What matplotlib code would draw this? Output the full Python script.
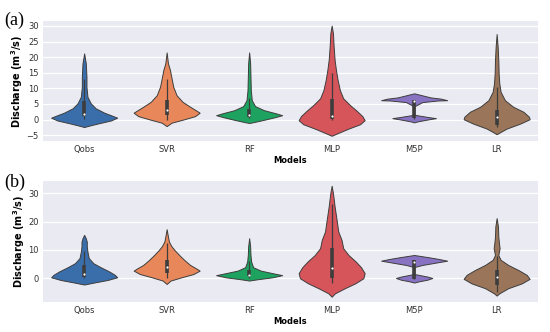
import numpy as np
import matplotlib
matplotlib.use("Agg")
import matplotlib.pyplot as plt

models = ["Qobs", "SVR", "RF", "MLP", "M5P", "LR"]
colors = ["#3a6eab", "#e8875a", "#1da35f", "#d5555a", "#8872c2", "#9a7559"]

# violin outlines: discharge level and relative half width (1 = widest)
# panel (a)
a_qobs_y = [-2.4, -2.1, -1.3, -0.3, 0.6, 1.2, 2.2, 3.6, 5.2, 7.3, 10.5, 13.7, 18.0, 21.2]
a_qobs_w = [0, 0.10, 0.40, 0.81, 1.0, 0.86, 0.61, 0.35, 0.20, 0.10, 0.07, 0.07, 0.05, 0]
a_svr_y = [-2.1, -1.0, 0.0, 1.1, 2.2, 2.8, 4.1, 5.7, 7.8, 10.5, 13.7, 15.9, 18.0, 21.5]
a_svr_w = [0, 0.15, 0.50, 0.86, 1.0, 0.91, 0.71, 0.48, 0.30, 0.20, 0.14, 0.10, 0.04, 0]
a_rf_y = [-1.1, -0.9, -0.2, 0.7, 1.4, 2.0, 3.0, 4.3, 6.2, 9.4, 13.7, 18.0, 21.5]
a_rf_w = [0, 0.10, 0.40, 0.76, 1.0, 0.81, 0.45, 0.18, 0.08, 0.05, 0.04, 0.03, 0]
a_mlp_y = [-5.2, -4.5, -2.9, -1.5, -0.2, 1.1, 2.8, 4.6, 6.8, 9.4, 12.7, 15.9, 19.1, 23.4, 27.6, 30.1]
a_mlp_w = [0, 0.15, 0.51, 0.86, 1.0, 0.93, 0.76, 0.56, 0.35, 0.25, 0.18, 0.13, 0.09, 0.06, 0.04, 0]
a_m5p_y = [-0.9, -0.6, 0.0, 0.45, 0.85, 1.4, 1.6, 4.3, 4.5, 5.6, 6.1, 6.2, 6.7, 7.1, 8.4]
a_m5p_w = [0, 0.10, 0.40, 0.66, 0.40, 0.08, 0.01, 0.01, 0.05, 0.25, 0.71, 1.0, 0.81, 0.50, 0]
a_lr_y = [-4.7, -4.2, -2.9, -1.3, 0.1, 0.9, 2.5, 4.1, 6.2, 8.9, 11.6, 14.8, 19.1, 23.4, 27.4]
a_lr_w = [0, 0.08, 0.30, 0.71, 1.0, 0.98, 0.81, 0.50, 0.25, 0.12, 0.08, 0.06, 0.05, 0.03, 0]

# panel (b)
b_qobs_y = [-2.2, -1.5, -0.6, 0.35, 1.2, 2.4, 3.9, 5.3, 7.1, 9.4, 11.2, 12.9, 14.1, 15.3]
b_qobs_w = [0, 0.30, 0.71, 1.0, 0.93, 0.76, 0.50, 0.28, 0.14, 0.10, 0.08, 0.08, 0.05, 0]
b_svr_y = [-2.0, -0.8, 0.35, 1.5, 2.7, 3.5, 4.7, 6.5, 8.2, 9.8, 11.2, 12.9, 15.3, 17.3]
b_svr_w = [0, 0.12, 0.45, 0.81, 1.0, 0.89, 0.71, 0.53, 0.38, 0.25, 0.15, 0.07, 0.03, 0]
b_rf_y = [-0.8, -0.35, 0.35, 1.1, 1.8, 2.7, 3.9, 5.9, 8.2, 11.2, 14.1]
b_rf_w = [0, 0.25, 0.71, 1.0, 0.71, 0.35, 0.12, 0.06, 0.04, 0.03, 0]
b_mlp_y = [-6.5, -5.3, -3.5, -1.8, 0.0, 1.8, 3.9, 5.9, 8.2, 10.6, 13.5, 16.5, 20.6, 25.3, 30.0, 32.6]
b_mlp_w = [0, 0.10, 0.40, 0.71, 0.96, 1.0, 0.89, 0.73, 0.51, 0.35, 0.30, 0.20, 0.15, 0.09, 0.04, 0]
b_m5p_y = [-1.5, -1.06, -0.5, 0.1, 0.6, 1.06, 1.5, 3.9, 4.1, 4.7, 5.5, 6.2, 6.8, 7.4, 8.2]
b_m5p_w = [0, 0.15, 0.40, 0.55, 0.40, 0.20, 0.01, 0.01, 0.05, 0.25, 0.65, 1.0, 0.75, 0.45, 0]
b_lr_y = [-6.1, -5.3, -3.5, -1.8, -0.2, 1.2, 2.9, 4.7, 6.5, 8.2, 10.6, 12.4, 14.7, 18.2, 21.2]
b_lr_w = [0, 0.08, 0.35, 0.76, 1.0, 0.91, 0.66, 0.35, 0.12, 0.05, 0.09, 0.07, 0.05, 0.04, 0]

# inner boxes: whisker low, Q1, median, Q3, whisker high
a_box = [[0.3, 1.0, 1.8, 5.8, 13.0], [0.0, 1.5, 3.0, 6.3, 13.0], [0.5, 0.9, 1.6, 3.5, 7.0],
         [0.0, 0.3, 1.0, 6.5, 15.0], [0.3, 0.6, 5.8, 6.4, 6.4], [-2.5, -1.8, 0.9, 3.0, 10.5]]
b_box = [[0.2, 0.6, 1.5, 4.7, 9.5], [0.0, 2.0, 3.9, 6.5, 12.5], [0.2, 0.8, 1.3, 2.9, 6.0],
         [-1.5, 0.0, 3.5, 10.6, 26.0], [-0.1, -0.1, 5.8, 6.5, 6.5], [-5.0, -2.4, 0.6, 2.9, 8.0]]

panel_a = [(a_qobs_y, a_qobs_w), (a_svr_y, a_svr_w), (a_rf_y, a_rf_w),
           (a_mlp_y, a_mlp_w), (a_m5p_y, a_m5p_w), (a_lr_y, a_lr_w)]
panel_b = [(b_qobs_y, b_qobs_w), (b_svr_y, b_svr_w), (b_rf_y, b_rf_w),
           (b_mlp_y, b_mlp_w), (b_m5p_y, b_m5p_w), (b_lr_y, b_lr_w)]


def draw_violins(ax, shapes, boxes, yticks, ylim):
    ax.set_facecolor("#EAEAF2")
    for s in ax.spines.values():
        s.set_visible(False)
    for i, ((ys, ws), bx) in enumerate(zip(shapes, boxes)):
        ys = np.array(ys)
        ws = np.array(ws) * 0.4
        ax.fill_betweenx(ys, i - ws, i + ws, facecolor=colors[i], edgecolor="#3d3d3d",
                         lw=0.7, zorder=2)
        ax.plot([i, i], [bx[0], bx[4]], color="#3d3d3d", lw=0.9, zorder=3,
                solid_capstyle="butt")
        ax.plot([i, i], [bx[1], bx[3]], color="#3d3d3d", lw=2.6, zorder=3,
                solid_capstyle="butt")
        ax.scatter([i], [bx[2]], s=2.5, color="white", zorder=4, linewidths=0)
    ax.set_xlim(-0.5, len(models) - 0.5)
    ax.set_ylim(*ylim)
    ax.set_yticks(yticks)
    ax.set_yticklabels([str(t).replace("-", "\u2212") for t in yticks])
    ax.set_xticks(range(len(models)))
    ax.set_xticklabels(models)
    ax.grid(axis="y", color="white", lw=0.9, zorder=0)
    ax.set_axisbelow(True)
    ax.tick_params(length=0, labelsize=6, colors="#333333", pad=3)
    ax.set_ylabel("Discharge (m$\\mathbf{^3}$/s)", fontsize=7, fontweight="bold", labelpad=1)
    ax.set_xlabel("Models", fontsize=6, fontweight="bold", labelpad=1)


fig = plt.figure(figsize=(5.5, 3.32), dpi=100)
ax1 = fig.add_axes([0.078, 0.575, 0.900, 0.362])
ax2 = fig.add_axes([0.078, 0.090, 0.900, 0.365])

draw_violins(ax1, panel_a, a_box, [-5, 0, 5, 10, 15, 20, 25, 30], (-6.9, 31.6))
draw_violins(ax2, panel_b, b_box, [0, 10, 20, 30], (-8.4, 34.3))

fig.text(0.008, 0.94, "(a)", fontsize=13, family="Liberation Serif", va="center")
fig.text(0.008, 0.45, "(b)", fontsize=13, family="Liberation Serif", va="center")

fig.savefig("out.png", dpi=100)
